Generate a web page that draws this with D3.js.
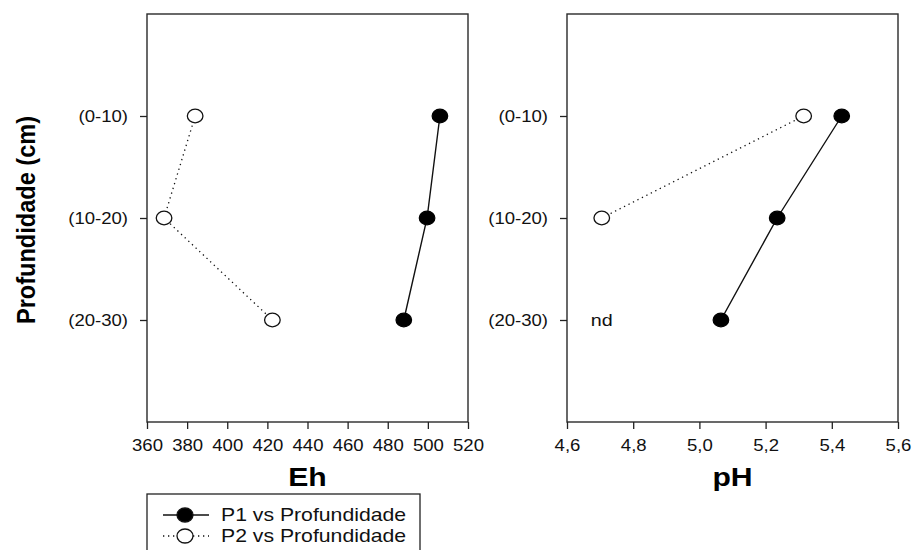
<!DOCTYPE html>
<html>
<head>
<meta charset="utf-8">
<script src="https://cdn.jsdelivr.net/npm/d3@7"></script>
<style>
  html, body { margin: 0; padding: 0; background: #fff; }
  svg { display: block; font-family: 'Liberation Sans', Arial, sans-serif; }
</style>
</head>
<body>
<svg id="chart" width="913" height="550"></svg>
<script>
const depths = ['(0-10)', '(10-20)', '(20-30)'];
const ehP1 = [506, 499.6, 488];
const ehP2 = [384, 368.5, 422.5];
const phP1 = [5.43, 5.235, 5.065];
const phP2 = [5.315, 4.705]; // 20-30 not determined
const ehTicks = [360, 380, 400, 420, 440, 460, 480, 500, 520];
const phTicks = [4.6, 4.8, 5.0, 5.2, 5.4, 5.6];
const seriesNames = ['P1 vs Profundidade', 'P2 vs Profundidade'];

const svg = d3.select('#chart');
const plotTop = 14, plotBottom = 422;
const SX = 1.16; // the original text is drawn a little wider than Arial

const y = d3.scalePoint().domain(depths).range([plotTop, plotBottom]).padding(1);

// widen text horizontally, keeping its anchor in place
function stretch(sel) {
  sel.each(function () {
    const t = d3.select(this);
    const x = +t.attr('x') || 0;
    t.attr('x', x / SX).attr('transform', `scale(${SX},1)`);
  });
}

function panel(left, right, domain, ticks, fmt, p1, p2, title) {
  const x = d3.scaleLinear().domain(domain).range([left, right]);
  const g = svg.append('g');

  // frame
  g.append('rect')
    .attr('x', left).attr('y', plotTop)
    .attr('width', right - left).attr('height', plotBottom - plotTop)
    .attr('fill', 'none').attr('stroke', '#2a2a2a').attr('stroke-width', 1.4);

  const xAxis = g.append('g').attr('transform', `translate(0,${plotBottom})`)
    .call(d3.axisBottom(x).tickValues(ticks).tickFormat(fmt).tickSize(7).tickPadding(11));
  const yAxis = g.append('g').attr('transform', `translate(${left},0)`)
    .call(d3.axisLeft(y).tickSize(7).tickPadding(12));
  [xAxis, yAxis].forEach((a) => {
    a.select('.domain').remove();
    a.selectAll('line').attr('stroke', '#222').attr('stroke-width', 1.3);
    a.selectAll('text').attr('font-size', 16).attr('fill', '#111')
      .attr('font-family', "'Liberation Sans', Arial, sans-serif");
    stretch(a.selectAll('text'));
  });

  const line = d3.line().x((d) => x(d[0])).y((d) => y(d[1]));
  const pts1 = p1.map((v, i) => [v, depths[i]]);
  const pts2 = p2.map((v, i) => [v, depths[i]]);

  g.append('path').attr('d', line(pts2)).attr('fill', 'none')
    .attr('stroke', '#111').attr('stroke-width', 1.3).attr('stroke-dasharray', '1.3 3.7');
  g.append('path').attr('d', line(pts1)).attr('fill', 'none')
    .attr('stroke', '#111').attr('stroke-width', 1.4);

  g.selectAll('.p2').data(pts2).join('ellipse')
    .attr('cx', (d) => x(d[0])).attr('cy', (d) => y(d[1]))
    .attr('rx', 7.8).attr('ry', 6.8)
    .attr('fill', '#fff').attr('stroke', '#111').attr('stroke-width', 1.3);
  g.selectAll('.p1').data(pts1).join('ellipse')
    .attr('cx', (d) => x(d[0])).attr('cy', (d) => y(d[1]))
    .attr('rx', 7.8).attr('ry', 6.8)
    .attr('fill', '#000').attr('stroke', '#000').attr('stroke-width', 1.2);

  g.append('text')
    .attr('x', (left + right) / 2).attr('y', 486)
    .attr('text-anchor', 'middle').attr('font-size', 26).attr('font-weight', 'bold')
    .attr('fill', '#000').text(title)
    .call(stretch);
  return x;
}

panel(147, 468, [360, 520], ehTicks, d3.format('d'), ehP1, ehP2, 'Eh');
const xPh = panel(567, 898, [4.6, 5.6], phTicks, (d) => d.toFixed(1).replace('.', ','), phP1, phP2, 'pH');

// not determined marker
svg.append('text')
  .attr('x', xPh(4.705)).attr('y', y('(20-30)') + 6)
  .attr('text-anchor', 'middle')
  .attr('font-size', 17).attr('fill', '#111').text('nd')
  .call(stretch);

// y axis title
svg.append('text')
  .attr('transform', `translate(35,220) rotate(-90)`)
  .attr('text-anchor', 'middle').attr('font-size', 26).attr('font-weight', 'bold')
  .attr('textLength', 208).attr('lengthAdjust', 'spacingAndGlyphs')
  .attr('fill', '#000')
  .text('Profundidade (cm)');

// legend
const lg = svg.append('g');
lg.append('rect').attr('x', 147).attr('y', 494).attr('width', 273).attr('height', 70)
  .attr('fill', '#fff').attr('stroke', '#222').attr('stroke-width', 1.3);
seriesNames.forEach((name, i) => {
  const ly = 515 + i * 21;
  lg.append('line').attr('x1', 163).attr('x2', 209).attr('y1', ly).attr('y2', ly)
    .attr('stroke', '#111').attr('stroke-width', 1.3)
    .attr('stroke-dasharray', i === 1 ? '1.3 3.7' : null);
  lg.append('ellipse').attr('cx', 185).attr('cy', ly).attr('rx', 8).attr('ry', 7)
    .attr('fill', i === 0 ? '#000' : '#fff').attr('stroke', '#111').attr('stroke-width', 1.3);
  lg.append('text').attr('x', 221).attr('y', ly + 6).attr('font-size', 18.3)
    .attr('fill', '#111').text(name)
    .call(stretch);
});
</script>
</body>
</html>
